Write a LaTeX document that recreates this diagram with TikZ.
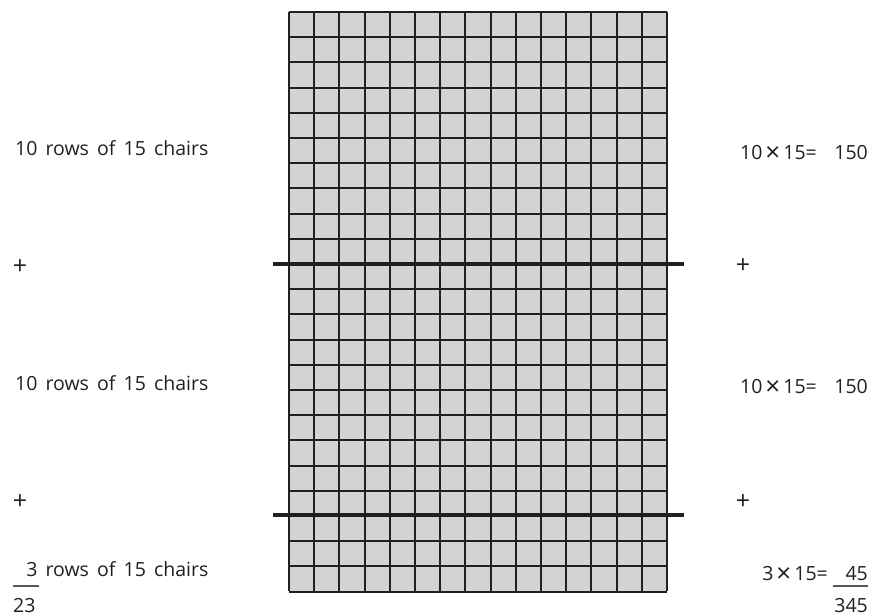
\documentclass[tikz,border=0pt]{standalone}
\usepackage{fontspec}
\setmainfont{Open Sans}[WordSpace=1.6]
\usetikzlibrary{positioning}

\definecolor{seatgray}{HTML}{D1D3D4}
\definecolor{inkdark}{HTML}{231F20}

\newcommand{\tms}{\hspace{3pt}\raisebox{-2.5pt}{\fontsize{26}{22}\selectfont ×}\hspace{3pt}}

\tikzset{
  txt/.style={inner sep=0pt,text=inkdark,font=\fontsize{19.5}{22}\selectfont},
  plus/.style={txt,font=\fontsize{25}{28}\selectfont},
  gridline/.style={draw=inkdark,line width=2pt},
  splitline/.style={draw=inkdark,line width=4.5pt},
  sumline/.style={draw=inkdark!75,line width=1.3pt}
}

\begin{document}
\begin{tikzpicture}[x=1pt,y=-1pt]
    \useasboundingbox (0,0) rectangle (872,615);
    % the block of chairs: 15 columns, 23 rows
    \fill[seatgray] (289,12) rectangle (667,591);
    \foreach \c in {0,...,15}
      \draw[gridline] (289+25.2*\c,12) -- (289+25.2*\c,591);
    \foreach \r in {0,...,23}
      \draw[gridline] (289,12+25.2*\r) -- (667,12+25.2*\r);
    % splits after 10 and 20 rows
    \coordinate (splitAw) at (273,264);
    \coordinate (splitAe) at (684,264);
    \coordinate (splitBw) at (273,515);
    \coordinate (splitBe) at (684,515);
    \draw[splitline] (splitAw) -- (splitAe);
    \draw[splitline] (splitBw) -- (splitBe);
    % left column
    \node[txt,anchor=base west] (rowsA) at (15,155) {10 rows of 15 chairs};
    \node[plus,anchor=center] (plusLA) at (20,267) {+};
    \node[txt,anchor=base west] (rowsB) at (15,390) {10 rows of 15 chairs};
    \node[plus,anchor=center] (plusLB) at (20,502) {+};
    \node[txt,anchor=base west] (rowsC) at (15,576)
      {\hphantom{1}3 rows of 15 chairs};
    \coordinate (barLw) at (13,586);
    \coordinate (barLe) at (39,586);
    \draw[sumline] (barLw) -- (barLe);
    \node[txt,anchor=base west] (totalL) at (13,612) {23};
    % right column
    \node[txt,anchor=base east] (prodA) at (817,159) {10\tms15=};
    \node[txt,anchor=base east] (valA) at (868,159) {150};
    \node[plus,anchor=center] (plusRA) at (743,266) {+};
    \node[txt,anchor=base east] (prodB) at (817,393) {10\tms15=};
    \node[txt,anchor=base east] (valB) at (868,393) {150};
    \node[plus,anchor=center] (plusRB) at (743,502) {+};
    \node[txt,anchor=base east] (prodC) at (828,580) {3\tms15=};
    \node[txt,anchor=base east] (valC) at (868,580) {45};
    \coordinate (barRw) at (833,586);
    \coordinate (barRe) at (868,586);
    \draw[sumline] (barRw) -- (barRe);
    \node[txt,anchor=base east] (totalR) at (868,612) {345};
\end{tikzpicture}
\end{document}
